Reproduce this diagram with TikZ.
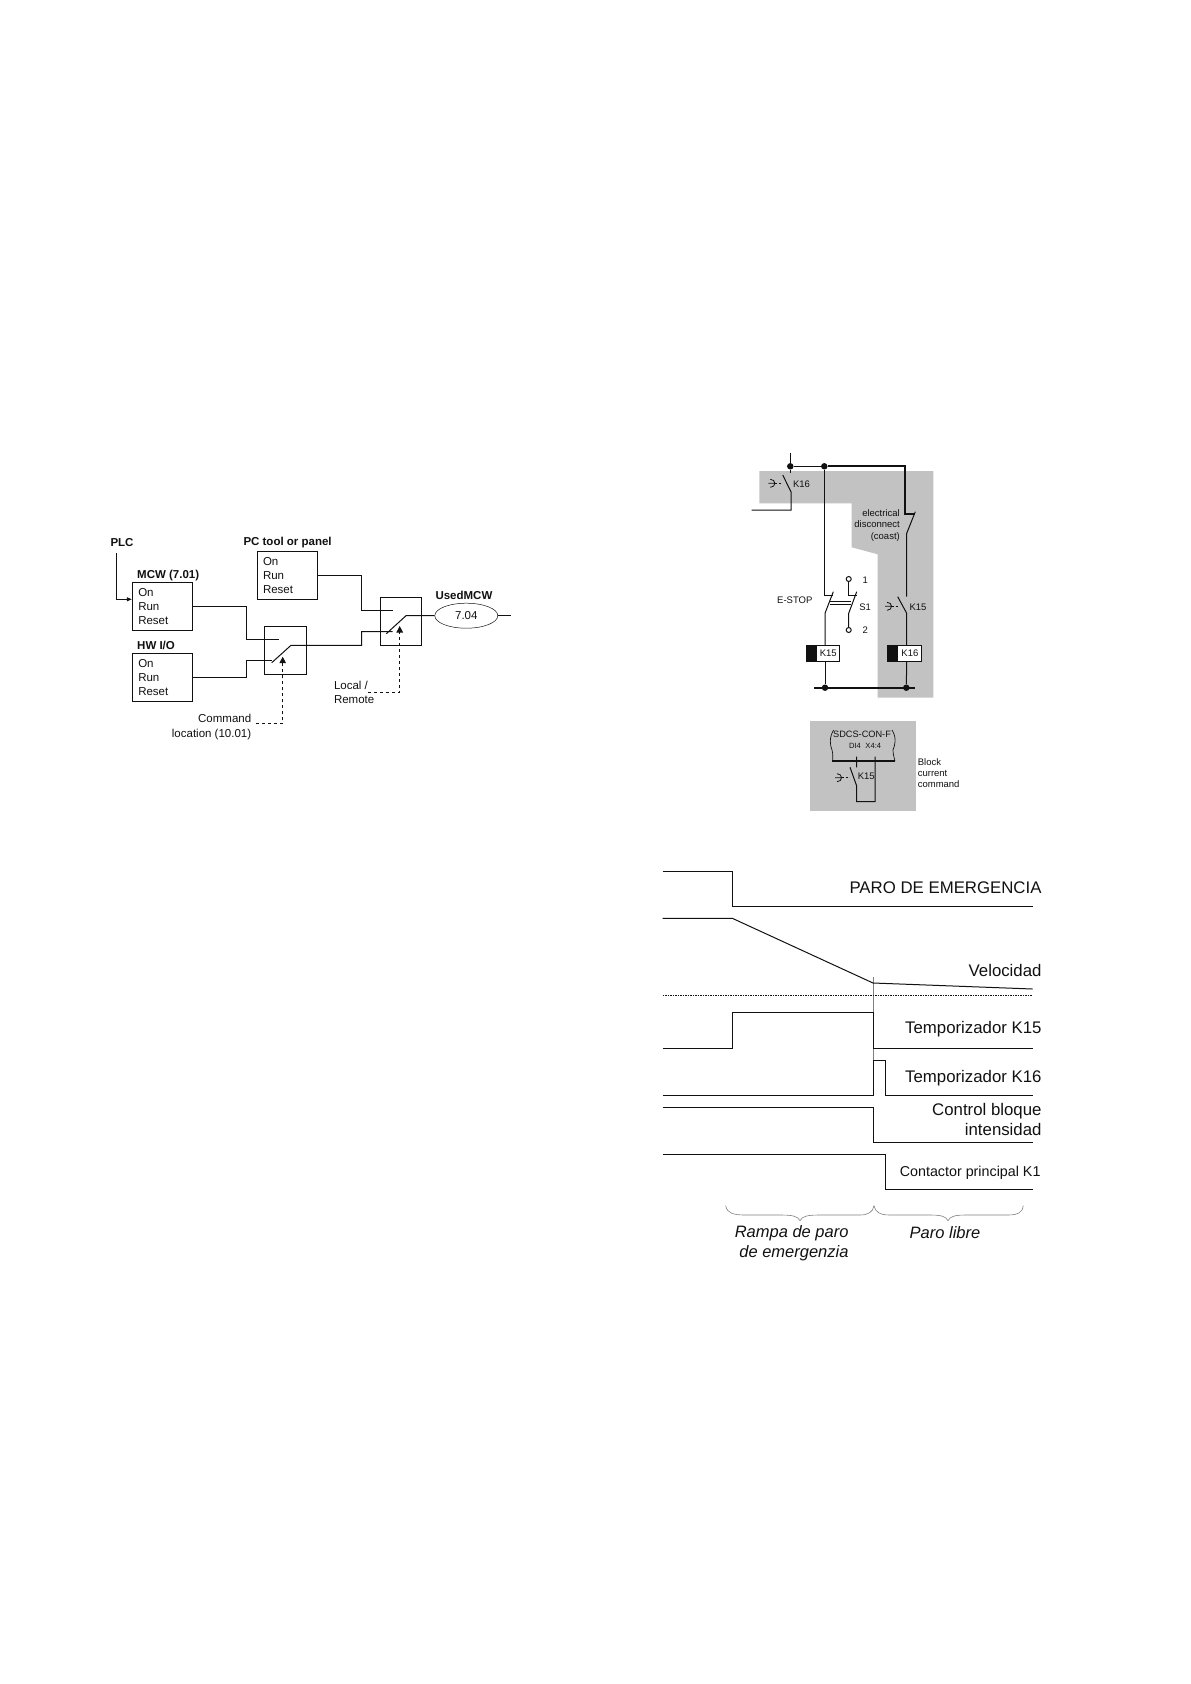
\documentclass[tikz,border=0pt]{standalone}
\usepackage{fontspec}
\usetikzlibrary{shapes.geometric,arrows.meta}
\setmainfont{Liberation Sans}
\definecolor{panelgrey}{HTML}{C2C2C2}
\definecolor{ink}{HTML}{111111}
\newcommand{\fsz}[1]{\fontsize{#1}{#1}\selectfont}
\tikzset{
  sc/.style={x=1pt,y=-1pt,line width=1pt,ink,>={Triangle[length=6.5pt,width=6.5pt]}},
  lab/.style={inner sep=0pt,font=\fsz{11.5}},
  hd/.style={inner sep=0pt,font=\fsz{11.5}\bfseries,anchor=west},
  cmdbox/.style={draw,inner sep=0pt,minimum width=60pt,minimum height=48pt,align=left,text width=48pt,font=\fontsize{11.5}{14}\selectfont},
  swbox/.style={draw,inner sep=0pt,minimum width=42pt,minimum height=48pt},
  ctl/.style={dashed,->},
  sm/.style={inner sep=0pt,font=\fsz{9.5}},
  coil/.style={draw,fill=white,inner sep=0pt,minimum height=16.5pt,font=\fsz{9.5}},
  big/.style={inner sep=0pt,anchor=east,font=\fsz{16.8}},
  rmp/.style={inner sep=0pt,font=\fsz{16.5}\itshape},
  sig/.style={line width=1pt},
  dot/.style={circle,fill=ink,inner sep=0pt,minimum size=6.5pt}
}
\begin{document}
\begin{tikzpicture}[sc]
  \useasboundingbox (0,0) rectangle (1191,1684);

  \node[hd] (plc) at (110,543) {PLC};
  \node[hd] (pchd) at (243,543) {PC tool or panel};
  \node[hd] (mcwhd) at (136.7,575.5) {MCW (7.01)};
  \node[hd] (hwhd) at (136.7,645.7) {HW I/O};
  \node[hd] (usedhd) at (435,595) {UsedMCW};
  \node[cmdbox] (pc) at (287,575.3) {On\\Run\\Reset};
  \node[cmdbox] (mcw) at (162.3,606.3) {On\\Run\\Reset};
  \node[cmdbox] (hw) at (162.3,677.3) {On\\Run\\Reset};
  \node[swbox] (swa) at (285.3,650.3) {};
  \node[swbox,minimum width=41pt] (swb) at (400.8,621.3) {};
  \node[draw,ellipse,line width=.5pt,lab,minimum width=63pt,minimum height=25pt] (used) at (466.3,615.7) {7.04};
  \coordinate (plctop) at (116,553.3);
  \coordinate (swaup) at (279.3,639.3);
  \coordinate (swalo) at (271.7,660.3);
  \coordinate (swbup) at (392.7,610.3);
  \coordinate (swblo) at (392.7,631.7);
  \coordinate (usedout) at (511,615.7);
  \draw[-{Triangle[length=5pt,width=4pt]}] (plctop) |- (mcw.west |- 0,599.3);
  \draw (mcw.east) -| (246.7,639.3) -- (swaup);
  \draw (hw.east) -| (246.7,660.3) -- (swalo);
  \draw (pc.east) -| (361.7,610.3) -- (swbup);
  \draw (271.7,662.7) -- (291,645.3) -- (361.7,645.3) -- (361.7,631.7) -- (swblo);
  \draw (386.3,633.7) -- (406,615.7) -- (used.west);
  \draw (used.east) -- (usedout);
  \node[lab,align=right,anchor=east,font=\fontsize{11.5}{14.2}\selectfont] (cmdloc) at (251.7,727) {Command\\location (10.01)};
  \node[lab,align=left,anchor=west,font=\fontsize{11.5}{14.3}\selectfont] (locrem) at (333.5,692.5) {Local /\\Remote};
  \draw[ctl] (256,723.7) -| (282.7,656.7);
  \draw[ctl] (368,692.3) -| (399.7,626);

  \fill[panelgrey] (759.3,471) -- (933.3,471) -- (933.3,697.7) -- (877.7,697.7) -- (877.7,554.3) -- (851.7,547.3) -- (851.7,503.3) -- (759.3,503.3) -- cycle;
  \fill[panelgrey] (810,721) rectangle (916,811);

  \node[dot] (ja) at (790.3,466.3) {};
  \node[dot] (jb) at (824.3,466.3) {};
  \node[dot] (jc) at (825,687.7) {};
  \node[dot] (jd) at (906.3,687.7) {};
  \node[coil,minimum width=33pt] (cka) at (822.8,653.5) {\hspace{11pt}K15};
  \node[coil,minimum width=34.7pt] (ckb) at (904.4,653.5) {\hspace{11pt}K16};
  \fill[ink] (cka.north west) rectangle (817.3,661.7);
  \fill[ink] (ckb.north west) rectangle (898.3,661.7);
  \draw (790.3,453.3) -- (ja) -- (790.3,473);
  \draw (ja) -- (jb);
  \draw[line width=1.8pt] (jb) -- (905.3,466.3) -- (905.3,514) -- (915.3,514);
  \draw (915.3,511.7) -- (906.7,533.3) -- (906.7,596.7);
  \draw (782.7,475) -- (791,491.7) -- (791,510) -- (751.7,510);
  \draw (jb) -- (824.3,595) -- (833.3,595);
  \draw (833.3,591.7) -- (825,613.3) -- (cka.north -| 825,0);
  \draw (848.7,582) -- (848.7,595.7) -- (856.7,595.7);
  \draw (856.7,591.7) -- (848.7,613.3) -- (848.7,627);
  \draw (848.7,579) circle (2.5);
  \draw (848.7,630) circle (2.5);
  \draw[line width=.8pt] (830,601.7) -- (850.7,601.7) (830,604.7) -- (850.7,604.7);
  \draw (897.7,596.7) -- (906.7,613.3) -- (906.7,645.3);
  \draw[line width=1.8pt] (814,687.7) -- (915.3,687.7);
  \draw (825,661.7) -- (jc);
  \draw (906.7,661.7) -- (jd);
  \foreach \x/\y in {768.3/483.3,885/606.3,835/777.7}{
    \draw[shift={(\x,\y)},line width=.8pt] (2,-4) .. controls (8,-4) and (8,4) .. (2,4) (0,0) -- (7,0);
    \draw[shift={(\x,\y)},line width=.8pt,dash pattern=on 2pt off 1.5pt] (7,0) -- (14,0);
  }
  \node[sm,anchor=west] (ksa) at (792.5,484.3) {K16};
  \node[sm,anchor=west] (ksb) at (909,607.3) {K15};
  \node[sm,anchor=east,align=right,font=\fontsize{9.5}{11.2}\selectfont] (coast) at (900.3,525.5) {electrical\\disconnect\\(coast)};
  \node[sm,anchor=west] (estop) at (776.7,600.3) {E-STOP};
  \foreach \n/\y/\t in {la/580.3/1,ls/607.7/S1,lb/630.3/2}{\node[sm] (\n) at (865.2,\y) {\t};}

  \node[sm,font=\fsz{9.2}] (sdcs) at (862,734) {SDCS-CON-F};
  \node[inner sep=0pt,font=\fsz{7.6}] (di) at (855,745.7) {DI4};
  \node[inner sep=0pt,font=\fsz{7.6}] (xf) at (873.3,745.7) {X4:4};
  \draw[line width=.7pt] (833.5,730) .. controls (829,738) and (830,745) .. (832,750) .. controls (833,754) and (833,757) .. (832.5,761);
  \draw[line width=.7pt] (892,730) .. controls (897,738) and (895,745) .. (893,750) .. controls (893,754) and (894,757) .. (895,761);
  \draw[line width=1.8pt] (832.3,761) -- (895,761);
  \draw (856.7,756.7) -- (856.7,767.3) (850,767.3) -- (856.7,786) -- (856.7,801.7) -- (875,801.7) -- (875,756.7);
  \node[sm,anchor=west] (kb) at (857.3,776) {K15};
  \node[sm,anchor=west,align=left,font=\fontsize{9.5}{11.4}\selectfont] (blk) at (917.3,773) {Block\\current\\command};

  \draw[line width=.5pt,gray] (873,977.3) -- (873,1060.3);
  \draw[sig] (662.7,871.3) -- (732.3,871.3) -- (732.3,906.3) -- (1032.7,906.3);
  \draw[sig] (662.7,918.3) -- (732.3,918.3) -- (873,983) -- (1032.7,989);
  \draw[sig,dash pattern=on 1.5pt off 1pt] (662.7,995.3) -- (1032.7,995.3);
  \draw[sig] (662.7,1048.3) -- (732.3,1048.3) -- (732.3,1012.3) -- (873,1012.3) -- (873,1048.3) -- (1032.7,1048.3);
  \draw[sig] (662.7,1095) -- (873.3,1095) -- (873.3,1060.3) -- (885.3,1060.3) -- (885.3,1095) -- (1032.7,1095);
  \draw[sig] (662.7,1107.3) -- (873.3,1107.3) -- (873.3,1142.3) -- (1032.7,1142.3);
  \draw[sig] (662.7,1154.3) -- (885.3,1154.3) -- (885.3,1189.3) -- (1032.7,1189.3);
  \foreach \n/\y/\t in {sa/888/PARO DE EMERGENCIA,sb/970.7/Velocidad,sc/1029/Temporizador K15,sd/1078.5/Temporizador K16,se/1111.3/Control bloque,sf/1129.3/intensidad}{\node[big] (\n) at (1042,\y) {\t};}
  \node[big,font=\fsz{14.3}] (sg) at (1041,1172.7) {Contactor principal K1};
  \draw[line width=.6pt,gray] (725.7,1205.7) .. controls (727,1213) and (733,1215) .. (745,1215) -- (780,1215) .. controls (792,1215) and (798,1216) .. (800,1220.7) .. controls (802,1216) and (808,1215) .. (820,1215) -- (860,1215) .. controls (868,1215) and (873,1212) .. (874,1205.7);
  \draw[line width=.6pt,gray] (874,1205.7) .. controls (875,1212) and (880,1215) .. (890,1215) -- (930,1215) .. controls (940,1215) and (946,1216) .. (948,1220.7) .. controls (950,1216) and (956,1215) .. (966,1215) -- (1008,1215) .. controls (1018,1215) and (1023,1212) .. (1023.3,1205.7);
  \node[rmp,anchor=east] (ra) at (849,1233.7) {Rampa de paro};
  \node[rmp,anchor=east] (rb) at (849,1253.7) {de emergenzia};
  \node[rmp] (rc) at (945,1232.7) {Paro libre};
\end{tikzpicture}
\end{document}
